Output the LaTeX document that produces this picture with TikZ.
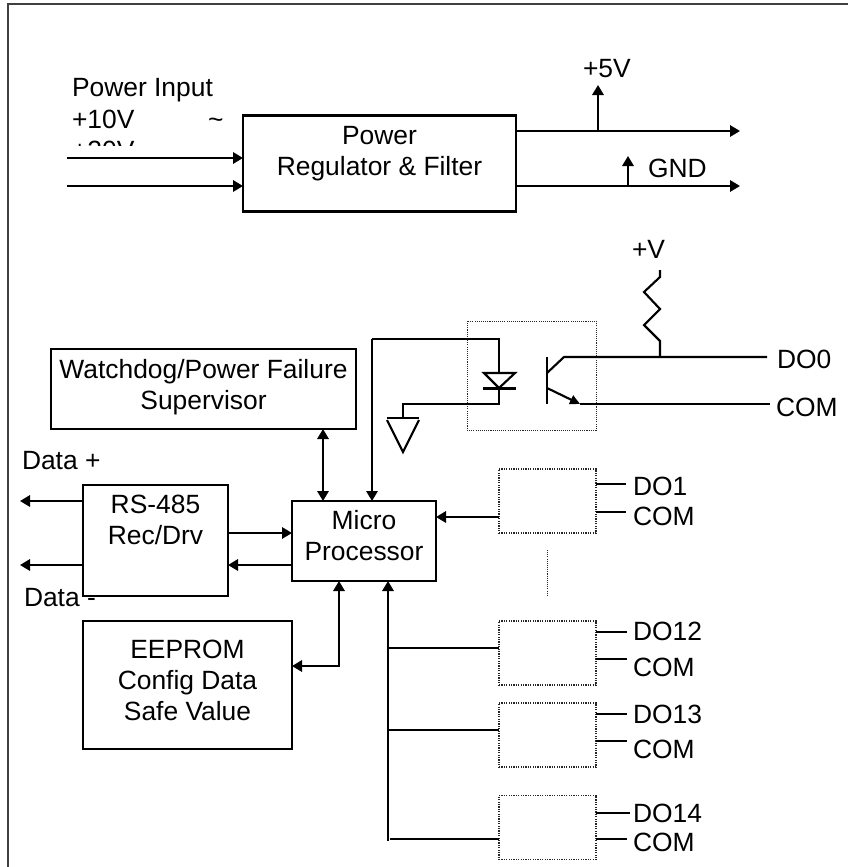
\documentclass[tikz,border=0pt]{standalone}
\usepackage{fontspec}
\setmainfont{Liberation Sans}
\usetikzlibrary{arrows.meta}
\newcommand{\placed}[2]{\raisebox{#1}[0pt][0pt]{\begin{tabular}[t]{@{}c@{}}#2\end{tabular}}}
\tikzset{
  x=0.75pt,y=-0.75pt,
  every node/.style={font=\fontsize{19.8}{23.25}\selectfont,inner sep=0pt,outer sep=0pt},
  box/.style={draw=black,line width=1.9pt,fill=white},
  optobox/.style={draw=black!85,line width=0.8pt,dash pattern=on 0.9pt off 0.9pt},
  optofine/.style={draw=black!85,line width=0.7pt,dash pattern=on 0.8pt off 0.8pt},
  lab/.style={anchor=base west},
  wire/.style={line width=1.6pt,black},
  arr/.style={wire,-{Triangle[length=7.5pt,width=8.5pt]}},
  darr/.style={wire,{Triangle[length=7.5pt,width=8.5pt]}-{Triangle[length=7.5pt,width=8.5pt]}},
  frameline/.style={draw=black!75,line width=1.2pt},
}
\begin{document}
\begin{tikzpicture}
\useasboundingbox (0,0) rectangle (848,867);
% frame
\draw[frameline] (8,867) -- (8,4) -- (848,4);

% blocks
\node[box,minimum width=204.75pt,minimum height=72pt] (pw) at (379.5,163.5) {\placed{14.6pt}{Power\\Regulator \& Filter}};
\node[box,minimum width=228.75pt,minimum height=60pt] (wd) at (203.5,389) {\placed{8.25pt}{Watchdog/Power Failure\\Supervisor}};
\node[box,minimum width=108.75pt,minimum height=83.25pt] (rs) at (155.5,540.5) {\placed{20.6pt}{RS-485\\Rec/Drv}};
\node[box,minimum width=108pt,minimum height=60pt] (mp) at (364,541) {\placed{9pt}{Micro\\Processor}};
\node[box,minimum width=156.75pt,minimum height=96pt] (ee) at (187.5,685) {\placed{20.25pt}{EEPROM\\Config Data\\Safe Value}};

% opto boxes
\node[optofine,minimum width=96.75pt,minimum height=81.75pt] (o0) at (531.5,375.5) {};
\node[optobox,minimum width=72.75pt,minimum height=48pt] (o1) at (547.5,501) {};
\node[optobox,minimum width=72.75pt,minimum height=48pt] (o12) at (547.5,653) {};
\node[optobox,minimum width=72.75pt,minimum height=48pt] (o13) at (547.5,735) {};
\node[optobox,minimum width=72.75pt,minimum height=48pt] (o14) at (547.5,827.5) {};

% text labels
\node[lab] (tpi) at (72,97) {Power Input};
\node[lab] (t10) at (72,128) {+10V};
\node[lab] (ttl) at (208,128) {\textasciitilde};
\begin{scope}
  \clip (60,130) rectangle (240,145);
  \node[lab] (t20) at (72,159) {+20V};
\end{scope}
\node[lab] (t5v) at (583,78) {+5V};
\node[lab] (tgnd) at (648,177) {GND};
\node[lab] (tv) at (632,258) {+V};
\node[lab] (tdo0) at (777,368) {DO0};
\node[lab] (tc0) at (776,416) {COM};
\node[lab] (tdp) at (22,469) {Data +};
\node[lab] (tdm) at (24,606) {Data -};
\node[lab] (tdo1) at (633,495) {DO1};
\node[lab] (tc1) at (633,525) {COM};
\node[lab] (tdo12) at (633,640) {DO12};
\node[lab] (tc12) at (633,676) {COM};
\node[lab] (tdo13) at (633,723) {DO13};
\node[lab] (tc13) at (633,758) {COM};
\node[lab] (tdo14) at (633,822) {DO14};
\node[lab] (tc14) at (633,851) {COM};

% power connectors
\coordinate (in1) at (67,158);
\coordinate (in2) at (67,186);
\draw[arr] (in1) -- (in1 -| pw.west);
\draw[arr] (in2) -- (in2 -| pw.west);
\coordinate (out1) at (740,131);
\coordinate (out2) at (740,186);
\draw[arr] (out1 -| pw.east) -- (out1);
\draw[arr] (out2 -| pw.east) -- (out2);
\coordinate (j5) at (598,131);
\coordinate (a5) at (598,85);
\draw[arr] (j5) -- (a5);
\coordinate (jg) at (628,186);
\coordinate (ag) at (628,156);
\draw[arr] (jg) -- (ag);

% bus connectors
\coordinate (wj) at (323,400);
\draw[darr] (wj |- wd.south) -- (wj |- mp.north);
\coordinate (q1) at (372,339);
\draw[arr] (q1) -- (q1 |- mp.north);
\coordinate (dl) at (20,501);
\coordinate (dh) at (20,565);
\draw[arr] (dl -| rs.west) -- (dl);
\draw[arr] (dh -| rs.west) -- (dh);
\coordinate (rm) at (260,533);
\coordinate (mr) at (260,565);
\draw[arr] (rm -| rs.east) -- (rm -| mp.west);
\draw[arr] (mr -| mp.west) -- (mr -| rs.east);
\coordinate (ej) at (339,666);
\draw[darr] (ej -| ee.east) -- (ej) -- (ej |- mp.south);
\coordinate (o1in) at (470,517);
\draw[arr] (o1in -| o1.west) -- (o1in -| mp.east);

% trunk
\coordinate (tr) at (388,841);
\draw[arr] (tr) -- (tr |- mp.south);
\coordinate (b12) at (388,648);
\coordinate (b13) at (388,730);
\coordinate (b14) at (390,839);
\draw[wire] (b12) -- (b12 -| o12.west);
\draw[wire] (b13) -- (b13 -| o13.west);
\draw[wire] (b14) -- (b14 -| o14.west);

% output stubs
\coordinate (s1a) at (626,484);
\coordinate (s1b) at (626,512);
\coordinate (s12a) at (627,632);
\coordinate (s12b) at (627,659);
\coordinate (s13a) at (627,714);
\coordinate (s13b) at (627,741);
\coordinate (s14a) at (630,813);
\coordinate (s14b) at (627,839);
\draw[wire] (s1a -| o1.east) -- (s1a);
\draw[wire] (s1b -| o1.east) -- (s1b);
\draw[wire] (s12a -| o12.east) -- (s12a);
\draw[wire] (s12b -| o12.east) -- (s12b);
\draw[wire] (s13a -| o13.east) -- (s13a);
\draw[wire] (s13b -| o13.east) -- (s13b);
\draw[wire] (s14a -| o14.east) -- (s14a);
\draw[wire] (s14b -| o14.east) -- (s14b);

% dotted continuation
\draw[optofine] (547,550) -- (547,596);

% opto-coupler detail
\draw[wire] (q1) -- (499,339) -- (499,373);
\draw[wire,line join=miter] (484,373) -- (515,373) -- (499,388) -- cycle;
\draw[wire] (483,388.5) -- (516,388.5);
\draw[wire] (499,388) -- (499,404) -- (403,404) -- (403,418);
\draw[wire] (387,418) -- (419,418);
\draw[wire] (387,420) -- (403,452) -- (419,420);
\draw[wire] (547,357) -- (547,404);
\draw[wire] (547,373) -- (564,357) -- (767,357);
\draw[wire,-{Triangle[length=7.5pt,width=7pt]}] (547,388) -- (580,404);
\draw[wire] (580,404) -- (770,404);
\draw[wire,line join=miter] (660,357) -- (660,341) -- (644,325) -- (660,309) -- (644,292) -- (660,277) -- (660,270);
\end{tikzpicture}
\end{document}
